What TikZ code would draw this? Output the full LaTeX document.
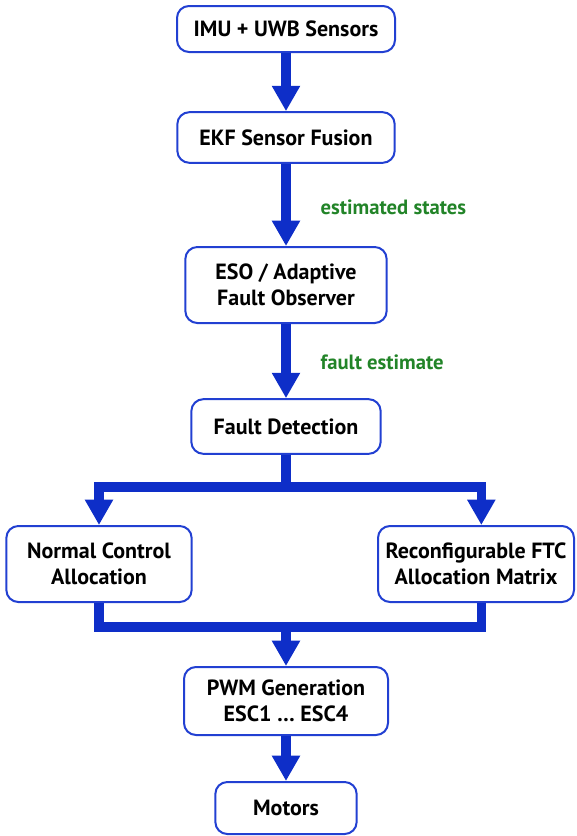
\documentclass[tikz,border=0pt]{standalone}
\usepackage{fontspec}
\setmainfont{PT Sans}
\usetikzlibrary{arrows.meta}

\definecolor{flowblue}{RGB}{14,46,200}
\definecolor{edgeblue}{RGB}{34,64,210}
\definecolor{notegreen}{RGB}{34,132,40}

\begin{document}
\begin{tikzpicture}[x=0.75pt,y=-0.75pt]
            {
    \tikzset{
        block/.style={draw=edgeblue, line width=1.5pt, rounded corners=9pt,
            fill=white, align=center, inner sep=2pt,
            font=\fontsize{16.5}{19.5}\selectfont\bfseries},
        trunk/.style={draw=flowblue, line width=7pt, line join=miter},
        flow/.style={trunk, -{Triangle[width=20pt,length=19pt]}},
        note/.style={anchor=west, text=notegreen,
            font=\fontsize{15.5}{18}\selectfont\bfseries}
    }
    \useasboundingbox (0,0) rectangle (576,836);

    % main chain
    \node[block, minimum width=163.5pt, minimum height=34.5pt] (sensors) at (286,29) {IMU + UWB Sensors};
    \node[block, minimum width=163pt, minimum height=38pt] (ekf) at (286,137.5) {EKF Sensor Fusion};
    \node[block, minimum width=151pt, minimum height=57pt] (eso) at (286,285) {ESO / Adaptive\\Fault Observer};
    \node[block, minimum width=142pt, minimum height=41pt] (fdet) at (286,426.5) {Fault Detection};

    % two allocation branches
    \node[block, minimum width=139pt, minimum height=57pt] (normal) at (99,564) {Normal Control\\Allocation};
    \node[block, minimum width=147pt, minimum height=57pt] (reconf) at (476,564) {Reconfigurable FTC\\Allocation Matrix};

    \node[block, minimum width=153pt, minimum height=51pt] (pwm) at (286,701) {PWM Generation\\ESC1 \dots\ ESC4};
    \node[block, minimum width=106pt, minimum height=39pt] (motors) at (286,808) {Motors};

    \coordinate (split) at (286,487);
    \coordinate (merge) at (286,627);

    \draw[flow] (sensors) -- (ekf);
    \draw[flow] (ekf) -- (eso);
    \draw[flow] (eso) -- (fdet);
    \draw[trunk] (fdet) -- (split);
    \draw[flow] (split) -| (normal.north);
    \draw[flow] (split) -| ([xshift=4pt]reconf.north);
    \draw[trunk] (normal.south) |- (merge) -| ([xshift=4pt]reconf.south);
    \draw[flow] (merge) -- (pwm);
    \draw[flow] (pwm) -- (motors);

    \node[note] (states) at (316,207) {estimated states};
    \node[note] (festim) at (316,362) {fault estimate};
}
\end{tikzpicture}
\end{document}
